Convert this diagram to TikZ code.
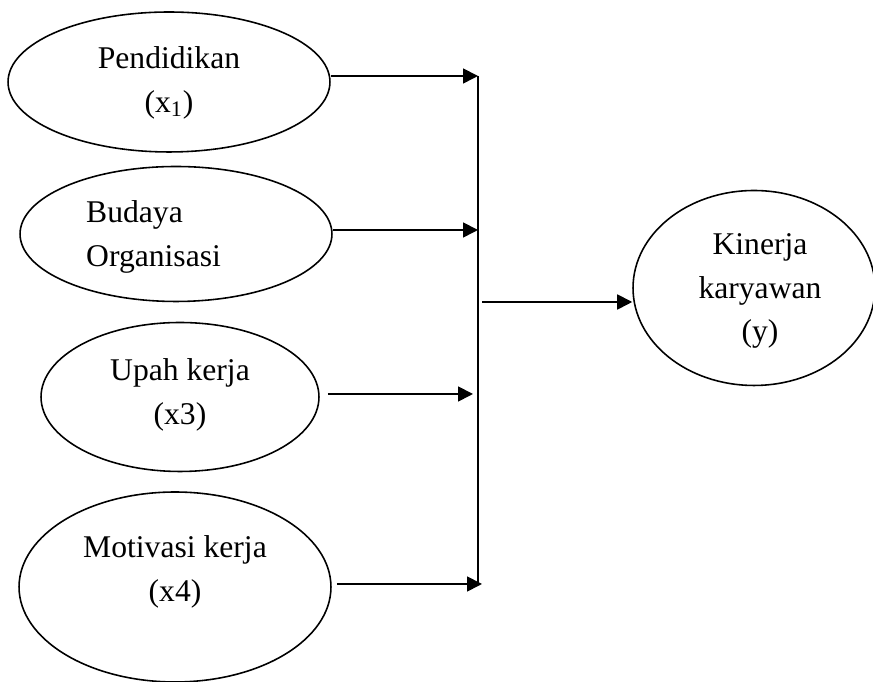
\documentclass[tikz,border=0pt]{standalone}
\usepackage{fontspec}
\setmainfont{Liberation Serif}
\usetikzlibrary{shapes.geometric,arrows.meta,positioning}

\begin{document}
\begin{tikzpicture}[x=0.02cm, y=0.02cm,
        var/.style={draw, ellipse, line width=0.9pt, inner sep=0pt},
        lbl/.style={align=center, font=\fontsize{18}{25}\selectfont},
        arr/.style={-{Triangle[length=0.3cm,width=0.3cm]}, line width=1pt}]
        \useasboundingbox (0,0) rectangle (873,682);

        % variabel
        \node[var, minimum width=6.44cm, minimum height=2.8cm] (pend) at (169,600) {};
        \node[var, minimum width=6.24cm, minimum height=2.7cm] (budaya) at (176,448) {};
        \node[var, minimum width=5.56cm, minimum height=2.98cm] (upah) at (180,285) {};
        \node[var, minimum width=6.24cm, minimum height=3.8cm] (motiv) at (175,95) {};
        \node[var, minimum width=4.84cm, minimum height=3.9cm] (kinerja) at (754,394) {};

        \node[lbl] (pendtxt) at (169,599.5) {Pendidikan\\(x\textsubscript{1})};
        \node[lbl, align=left, anchor=west] (budayatxt) at (80,445.5) {Budaya\\Organisasi};
        \node[lbl] (upahtxt) at (180,287) {Upah kerja\\(x3)};
        \node[lbl] (motivtxt) at (175,110.5) {Motivasi kerja\\(x4)};
        \node[lbl] (kinerjatxt) at (760,391) {Kinerja\\karyawan\\(y)};

        % garis penghubung
        \coordinate (j1) at (478,606);
        \coordinate (j2) at (478,452);
        \coordinate (j3) at (473,288);
        \coordinate (j4) at (482,98);
        \coordinate (out) at (482,380);

        \draw[line width=1pt] (j1) -- (j1 |- j4);
        \draw[arr] (pend.east |- j1) -- (j1);
        \draw[arr] (budaya.east |- j2) -- (j2);
        \draw[arr, shorten <=0.16cm] (upah.east |- j3) -- (j3);
        \draw[arr, shorten <=0.1cm] (motiv.east |- j4) -- (j4);
        \draw[arr] (out) -- (out -| kinerja.west);
    \end{tikzpicture}
\end{document}
